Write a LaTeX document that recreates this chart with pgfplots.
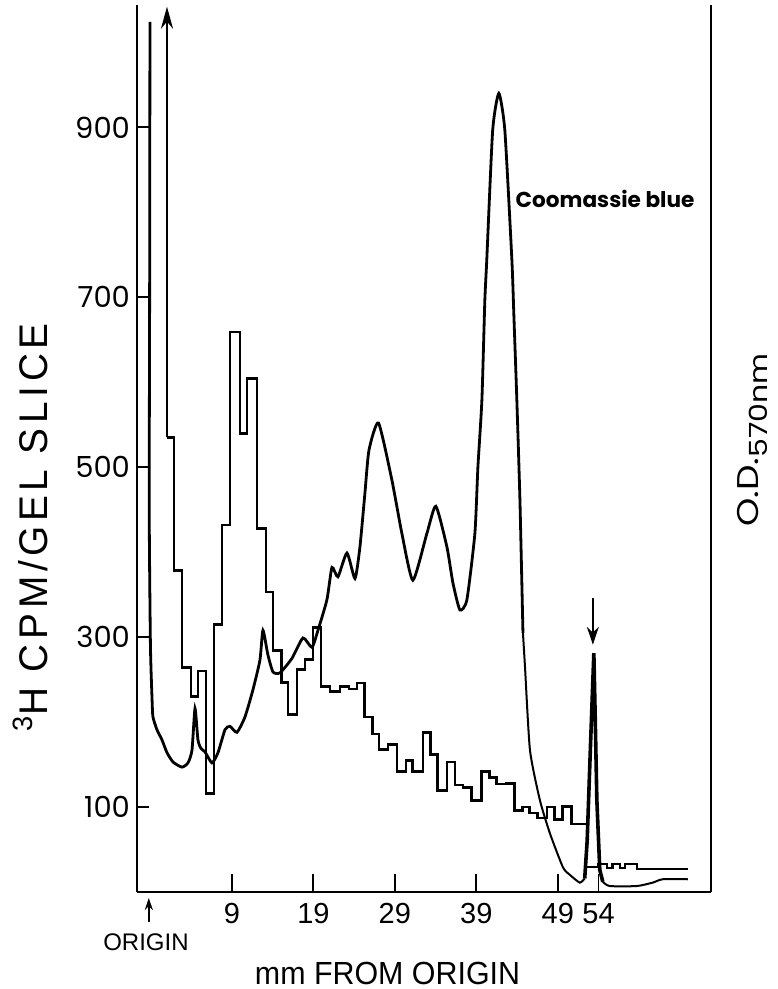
\documentclass[border=0pt]{standalone}
\usepackage{pgfplots}
\pgfplotsset{compat=1.18}
\usepackage{fontspec}
\setmainfont{Liberation Sans}
\newfontfamily\geo{Poppins}
\newfontfamily\spaced{Liberation Sans}[LetterSpace=12]
\usetikzlibrary{arrows.meta}
\begin{document}
\begin{tikzpicture}
\begin{axis}[
  scale only axis, width=287pt, height=443.5pt,
  xmin=-2.65, xmax=67.8, ymin=0, ymax=1044,
  axis x line*=bottom, axis y line*=left,
  axis line style={line width=0.9pt},
  xtick={9,19,29,39,49,54},
  ytick={100,300,500,700,900},
  tick align=inside,
  major tick style={line width=0.9pt, black},
  xtick style={/pgfplots/major tick length=9pt},
  ytick style={/pgfplots/major tick length=6pt},
  /pgf/number format/assume math mode=true,
  x tick label style={font=\fontsize{14.5}{14.5}\selectfont, yshift=-2pt},
  y tick label style={font=\geo\fontsize{14.5}{14.5}\selectfont},
  clip=false,
]
% histogram (3H CPM per slice)
\addplot[const plot, line width=1.4pt, black] coordinates {
(1.03,535) (1.89,378) (2.87,264) (3.98,230) (4.83,260) (5.82,116) (6.80,315)
(7.78,432) (8.76,659) (10.0,540) (10.85,604) (12.07,428) (13.18,353) (14.04,284)
(15.08,247) (15.88,209) (16.98,262) (17.96,274) (18.94,311) (19.93,242) (21.03,236)
(22.26,242) (23.36,239) (24.34,246) (25.32,206) (26.30,186) (27.04,168) (28.15,174)
(29.25,142) (30.36,155) (31.21,142) (32.44,188) (33.42,162) (34.28,119) (35.39,153)
(36.37,126) (37.35,123) (38.45,108) (39.68,142) (40.66,135) (41.52,127) (42.63,128)
(43.73,96) (44.71,100) (45.57,93) (46.55,87) (47.66,100) (48.64,85) (49.62,101)
(50.72,80) (52.57,80)
};
\addplot[const plot, line width=1.1pt, black] coordinates {
(52.57,29) (53.9,33) (55.0,28) (55.7,33) (56.6,28) (57.2,33) (58.7,27) (65.0,27)
};
% off-scale first slice
\addplot[line width=1.4pt, black, -{Stealth[length=11pt,width=6pt]}] coordinates {(1.03,535) (1.03,1042)};
% Coomassie blue absorbance trace
\addplot[smooth, tension=0.35, line width=1.4pt, black] coordinates {
(-1.06,1024) (-1.1,700) (-1.15,450) (-1.0,290) (-0.8,226) (-0.69,206) (-0.2,191)
(0.42,179) (1.03,164) (1.77,153) (2.87,147) (3.61,152) (4.1,167) (4.47,216) (4.83,179)
(5.2,169) (5.69,165) (6.55,152) (7.29,164) (8.15,191) (8.76,195) (9.62,188) (10.6,206)
(11.58,238) (12.44,273) (12.81,308) (13.42,279) (14.04,259) (14.9,258) (16.37,275)
(17.72,299) (18.82,288) (19.56,308) (20.66,344) (21.28,382) (22.01,371) (23.12,399)
(24.1,369) (24.71,406) (25.32,469) (25.82,520) (26.99,552) (28.63,485) (29.86,422)
(31.21,367) (32.93,422) (34.03,454) (35.39,406) (36.12,364) (36.98,332) (37.84,344)
(38.82,422) (39.19,500) (39.68,579) (40.04,696) (40.28,744) (41.0,896) (41.76,940)
(42.5,896) (43.36,744) (43.6,680) (43.97,579) (44.35,461) (44.72,305)
};
\addplot[smooth, tension=0.35, line width=1.0pt, black] coordinates {
(44.72,305) (44.97,265) (45.58,167) (46.8,108) (48.03,69) (49.63,29) (50.5,20) (51.7,11) (52.3,16)
};
\addplot[line width=1.8pt, black] coordinates {
(52.3,16) (52.6,60) (53.0,170) (53.42,281) (53.6,200) (53.79,108) (54.15,26) (54.52,12)
};
\addplot[smooth, tension=0.35, line width=1.0pt, black] coordinates {
(54.52,12) (55.37,7) (58.68,7) (60.64,11) (61.87,15) (64.95,15)
};
% arrow marking the dye front
\addplot[line width=1.1pt, black, -{Stealth[length=9pt,width=6pt]}] coordinates {(53.3,346) (53.3,291)};
% right axis line
\draw[line width=0.9pt] (rel axis cs:1,0) -- (rel axis cs:1,1);
% annotations
\node[font=\geo\bfseries\fontsize{10.8}{10.8}\selectfont, anchor=center] at (axis cs:54.8,816) {Coomassie blue};
\draw[line width=0.9pt, -{Stealth[length=6pt,width=4pt]}] ([yshift=-15pt]axis cs:-1.2,0) -- ([yshift=-3pt]axis cs:-1.2,0);
\node[font=\fontsize{12}{12}\selectfont] at ([yshift=-25pt]axis cs:-1.55,0) {ORIGIN};
\node[font=\fontsize{16}{16}\selectfont] at ([yshift=-40.5pt]axis cs:28.1,0) {\scalebox{0.95}[1]{mm FROM ORIGIN}};
\node[rotate=90, font=\spaced\fontsize{20}{20}\selectfont] at ([xshift=-53.5pt]axis cs:-2.65,429) {\scalebox{0.97}[1]{\textsuperscript{3}H CPM/GEL SLICE}};
\node[rotate=90] at ([xshift=20.5pt]axis cs:67.8,532) {\scalebox{1.2}[1]{\geo\fontsize{15}{15}\selectfont O.D.\raisebox{-0.3em}{\fontsize{12.5}{12.5}\selectfont 570nm}}};
\end{axis}
\pgfresetboundingbox
\path ([shift={(-68.5pt,-48.5pt)}]current axis.south west) rectangle ([shift={(33pt,2.5pt)}]current axis.north east);
\end{tikzpicture}
\end{document}
